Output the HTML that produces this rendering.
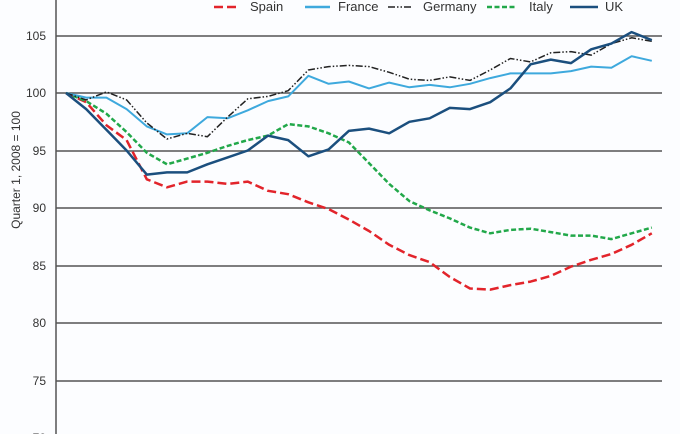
<!DOCTYPE html>
<html><head><meta charset="utf-8"><style>
html,body{margin:0;padding:0;background:#fcfdff;}
svg{display:block;font-family:"Liberation Sans",sans-serif;}
</style></head><body>
<svg id="c" width="680" height="434" viewBox="0 0 680 434" xmlns="http://www.w3.org/2000/svg">
<rect width="680" height="434" fill="#fcfdff"/>
<g stroke="#555" stroke-width="1.5">
<line x1="56" y1="36" x2="662" y2="36"/>
<line x1="56" y1="93" x2="662" y2="93"/>
<line x1="56" y1="151" x2="662" y2="151"/>
<line x1="56" y1="208" x2="662" y2="208"/>
<line x1="56" y1="266" x2="662" y2="266"/>
<line x1="56" y1="323" x2="662" y2="323"/>
<line x1="56" y1="381" x2="662" y2="381"/>
<line x1="56" y1="0" x2="56" y2="434"/>
</g>
<g font-size="12" fill="#333" text-anchor="end">
<text x="46" y="40">105</text>
<text x="46" y="97">100</text>
<text x="46" y="155">95</text>
<text x="46" y="212">90</text>
<text x="46" y="270">85</text>
<text x="46" y="327">80</text>
<text x="46" y="385">75</text>
<text x="46" y="442">70</text>
</g>
<text transform="translate(20,170) rotate(-90)" font-size="12" fill="#333" text-anchor="middle">Quarter 1, 2008 = 100</text>
<g font-size="13" fill="#333">
<line x1="214" y1="7" x2="240" y2="7" stroke="#e2242b" stroke-width="2.5" stroke-dasharray="9,4"/>
<text x="250" y="11">Spain</text>
<line x1="305" y1="7" x2="330" y2="7" stroke="#3ea9dd" stroke-width="2.5"/>
<text x="338" y="11">France</text>
<line x1="388" y1="7" x2="412" y2="7" stroke="#222" stroke-width="1.5" stroke-dasharray="7,2,1.5,2,1.5,2"/>
<text x="423" y="11">Germany</text>
<line x1="487" y1="7" x2="515" y2="7" stroke="#22a84a" stroke-width="2.5" stroke-dasharray="5,2.5"/>
<text x="529" y="11">Italy</text>
<line x1="570" y1="7" x2="598" y2="7" stroke="#1b4f7e" stroke-width="2.5"/>
<text x="605" y="11">UK</text>
</g>
<g id="series" fill="none" stroke-linejoin="round"></g>
</svg>
<script>
var S=[
["#e2242b",2.5,"9,4",[100,99.2,97.2,95.9,92.5,91.8,92.3,92.3,92.1,92.3,91.5,91.2,90.5,89.9,89.0,88.0,86.8,85.9,85.3,84.0,83.0,82.9,83.3,83.6,84.1,84.9,85.5,86.0,86.8,87.8]],
["#22a84a",2.5,"5,2.5",[100,99.3,98.2,96.6,94.8,93.8,94.3,94.8,95.4,95.9,96.3,97.3,97.1,96.5,95.7,93.9,92.1,90.6,89.8,89.1,88.3,87.8,88.1,88.2,87.9,87.6,87.6,87.3,87.8,88.3]],
["#3ea9dd",2,"",[100,99.6,99.6,98.6,97.1,96.4,96.5,97.9,97.8,98.5,99.3,99.7,101.5,100.8,101.0,100.4,100.9,100.5,100.7,100.5,100.8,101.3,101.7,101.7,101.7,101.9,102.3,102.2,103.2,102.8]],
["#222",1.5,"7,2,1.5,2,1.5,2",[100,99.4,100.1,99.4,97.4,96.0,96.5,96.2,97.9,99.5,99.7,100.2,102.0,102.3,102.4,102.3,101.8,101.2,101.1,101.4,101.1,102.0,103.0,102.7,103.5,103.6,103.3,104.3,104.8,104.5]],
["#1b4f7e",2.5,"",[100,98.6,96.8,95.0,92.9,93.1,93.1,93.8,94.4,95.0,96.3,95.9,94.5,95.1,96.7,96.9,96.5,97.5,97.8,98.7,98.6,99.2,100.4,102.5,102.9,102.6,103.8,104.3,105.3,104.6]]
];
var g=document.getElementById("series"),ns="http://www.w3.org/2000/svg";
S.forEach(function(s){
var p=document.createElementNS(ns,"polyline");
p.setAttribute("points",s[3].map(function(v,i){return (66+i*20.2).toFixed(1)+","+(93-(v-100)*11.5).toFixed(1)}).join(" "));
p.setAttribute("stroke",s[0]);p.setAttribute("stroke-width",s[1]);
if(s[2])p.setAttribute("stroke-dasharray",s[2]);
g.appendChild(p);});
</script>
</body></html>
